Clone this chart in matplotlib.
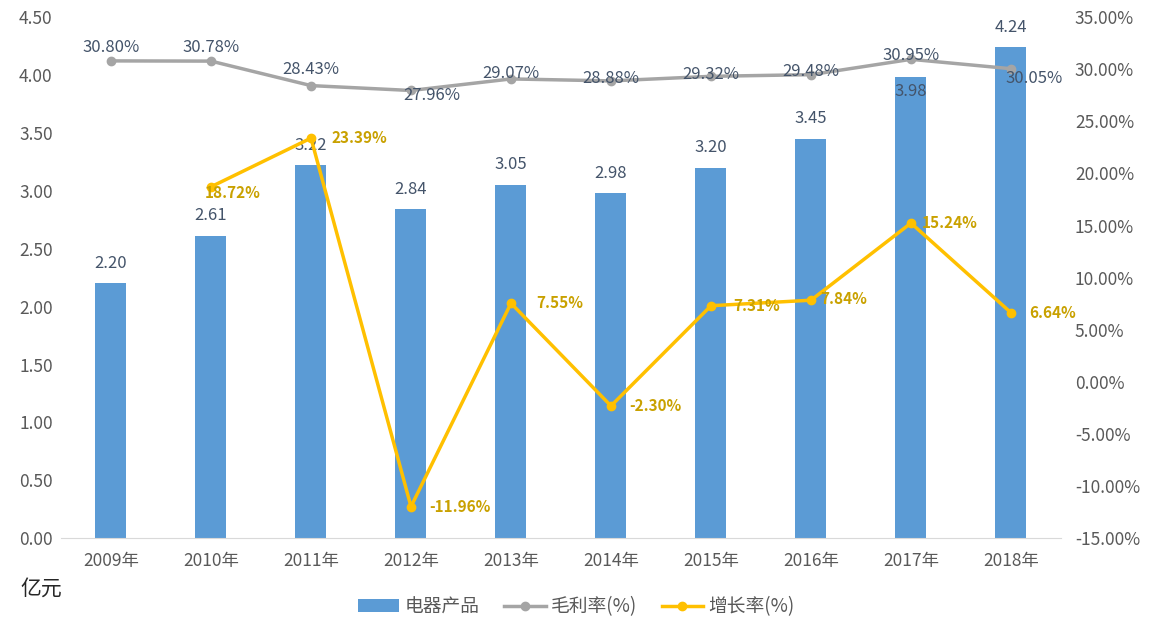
import numpy as np
import matplotlib.pyplot as plt

plt.rcParams['font.family'] = ['Noto Sans CJK SC', 'DejaVu Sans']

# data
years = ['2009年', '2010年', '2011年', '2012年', '2013年', '2014年', '2015年', '2016年', '2017年', '2018年']
sales = [2.20, 2.61, 3.22, 2.84, 3.05, 2.98, 3.20, 3.45, 3.98, 4.24]          # 电器产品, 亿元
margin = [30.80, 30.78, 28.43, 27.96, 29.07, 28.88, 29.32, 29.48, 30.95, 30.05]  # 毛利率 %
growth = [None, 18.72, 23.39, -11.96, 7.55, -2.30, 7.31, 7.84, 15.24, 6.64]     # 增长率 %

blue = '#5B9BD5'
gray = '#A5A5A5'
gold = '#FFC000'
tick_c = '#595959'

x = np.arange(len(years))

fig = plt.figure(figsize=(11.53, 6.34), dpi=100)
ax = fig.add_axes([0.0529, 0.151, 0.8673, 0.822])
ax2 = ax.twinx()

ax.bar(x, sales, width=0.31, color=blue, zorder=2, label='电器产品')
ax.set_xlim(-0.5, 9.5)
ax.set_ylim(0, 4.5)
ax.set_yticks(np.arange(0, 4.51, 0.5))
ax.set_yticklabels(['%.2f' % v for v in np.arange(0, 4.51, 0.5)])
ax.set_xticks(x)
ax.set_xticklabels(years)

for s in ['top', 'left', 'right']:
    ax.spines[s].set_visible(False)
    ax2.spines[s].set_visible(False)
ax2.spines['bottom'].set_visible(False)
ax.spines['bottom'].set_color('#D9D9D9')
ax.tick_params(axis='both', length=0, colors=tick_c, labelsize=12.5)
ax.tick_params(axis='x', pad=10)
ax.tick_params(axis='y', pad=6)
ax2.tick_params(axis='y', length=0, colors=tick_c, labelsize=12.5, pad=10)

# bar value labels
for i, v in enumerate(sales):
    if i == 8:
        ax.text(i, v - 0.05, '%.2f' % v, ha='center', va='top', fontsize=12, color='#44546A', zorder=5)
    else:
        ax.text(i, v + 0.1, '%.2f' % v, ha='center', va='bottom', fontsize=12, color='#44546A', zorder=5)

# right axis lines
ax2.set_ylim(-15, 35)
ax2.set_yticks(np.arange(-15, 35.1, 5))
ax2.set_yticklabels(['%.2f%%' % v for v in np.arange(-15, 35.1, 5)])

ax2.plot(x, margin, color=gray, linewidth=2.5, marker='o', markersize=6, zorder=3, label='毛利率(%)')
gx = [i for i in x if growth[i] is not None]
gy = [growth[i] for i in gx]
ax2.plot(gx, gy, color=gold, linewidth=2.5, marker='o', markersize=6, zorder=4, label='增长率(%)')

# margin labels (offsets in points)
m_off = [(0, 10), (0, 10), (0, 11.5), (15, -3.6), (0, 4), (0, 1.5), (0, 1.5), (0, 2), (0, 3), (16.5, -7)]
for i, v in enumerate(margin):
    dx, dy = m_off[i]
    ax2.annotate('%.2f%%' % v, (i, v), xytext=(dx, dy), textcoords='offset points',
                 ha='center', va='center', fontsize=12, color='#44546A', zorder=6)

# growth labels (left edge offset, vertical offset in points)
g_off = {1: (-4.5, -4.5), 2: (15, 0), 3: (13, 0), 4: (18, 0), 5: (13, 0),
         6: (16, 0), 7: (6.5, 1), 8: (8, 0), 9: (13, 0)}
for i, v in zip(gx, gy):
    dx, dy = g_off[i]
    ax2.annotate('%.2f%%' % v, (i, v), xytext=(dx, dy), textcoords='offset points',
                 ha='left', va='center', fontsize=11, color='#C9A100', fontweight='bold', zorder=6)

fig.text(0.018, 0.072, '亿元', fontsize=15, color='#262626', va='center')

h1, l1 = ax.get_legend_handles_labels()
h2, l2 = ax2.get_legend_handles_labels()
fig.legend(h1 + h2, l1 + l2, loc='center', bbox_to_anchor=(0.5, 0.043), ncol=3, frameon=False,
           fontsize=13.5, labelcolor=tick_c, handlelength=2.2, columnspacing=1.3, handletextpad=0.3)

fig.savefig('out.png', dpi=100)
